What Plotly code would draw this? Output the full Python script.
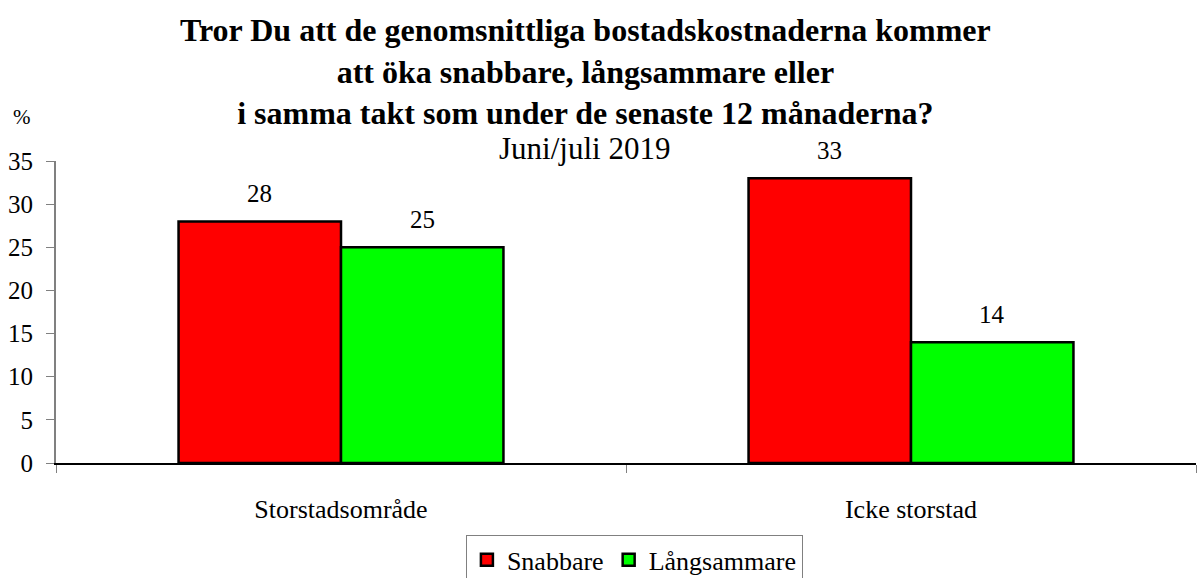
import plotly.graph_objects as go

categories = ["Storstadsområde", "Icke storstad"]
snabbare = [28, 33]
langsammare = [25, 14]

FONT = "Liberation Serif, Times New Roman, serif"
BARGAP = 0.43
PLOT_W = 1197 - 56 - 1

fig = go.Figure()
fig.add_trace(go.Bar(
    x=categories, y=snabbare, name="Snabbare",
    marker=dict(color="#ff0000", line=dict(color="black", width=2.5)),
))
fig.add_trace(go.Bar(
    x=categories, y=langsammare, name="Långsammare",
    marker=dict(color="#00ff00", line=dict(color="black", width=2.5)),
))

# value labels above each bar, shifted to the bar centre within its group
bar_px = PLOT_W / len(categories) * (1 - BARGAP) / 2
for series, shift in [(snabbare, -bar_px / 2), (langsammare, bar_px / 2)]:
    for cat, v in zip(categories, series):
        fig.add_annotation(x=cat, y=v, text=str(v), showarrow=False,
                           xshift=shift, yshift=28, yanchor="middle",
                           font=dict(size=25, family=FONT, color="black"))

fig.update_layout(
    width=1197, height=578,
    paper_bgcolor="white", plot_bgcolor="white",
    font=dict(family=FONT, color="black"),
    margin=dict(l=56, r=1, t=161, b=115),
    barmode="group", bargap=BARGAP, bargroupgap=0,
    showlegend=True,
    legend=dict(
        orientation="h", xref="container", yref="container",
        x=0.53, xanchor="center", y=0.074, yanchor="top",
        font=dict(size=26, family=FONT), bordercolor="#808080", borderwidth=1,
        itemwidth=30, entrywidthmode="pixels",
    ),
)
fig.update_xaxes(
    showline=True, linecolor="black", linewidth=1.5,
    ticks="outside", tickson="boundaries", ticklen=8, tickcolor="#808080",
    tickfont=dict(size=26, family=FONT), ticklabelstandoff=22,
    showgrid=False, automargin=False,
)
fig.update_yaxes(
    range=[0, 35], dtick=5, showline=True, linecolor="#808080", linewidth=2,
    ticks="outside", ticklen=8, tickcolor="#808080",
    tickfont=dict(size=25, family=FONT), ticklabelstandoff=8,
    showgrid=False, zeroline=False, automargin=False,
)
fig.add_annotation(
    text="<b>Tror Du att de genomsnittliga bostadskostnaderna kommer<br>"
         "att öka snabbare, långsammare eller<br>"
         "i samma takt som under de senaste 12 månaderna?</b>",
    xref="paper", yref="paper", x=0.4645, y=1.298, yanchor="middle",
    showarrow=False, font=dict(size=32, family=FONT, color="black"))
fig.add_annotation(text="Juni/juli 2019", xref="paper", yref="paper",
                   x=0.4636, y=1.043, yanchor="middle", showarrow=False,
                   font=dict(size=31, family=FONT))
fig.add_annotation(text="%", xref="paper", yref="paper", x=-0.0298, y=1.146,
                   xanchor="center", yanchor="middle", showarrow=False,
                   font=dict(size=21, family=FONT))

fig.write_html("out.html", config={"displayModeBar": False},
               post_script="document.body.style.margin='0';")
